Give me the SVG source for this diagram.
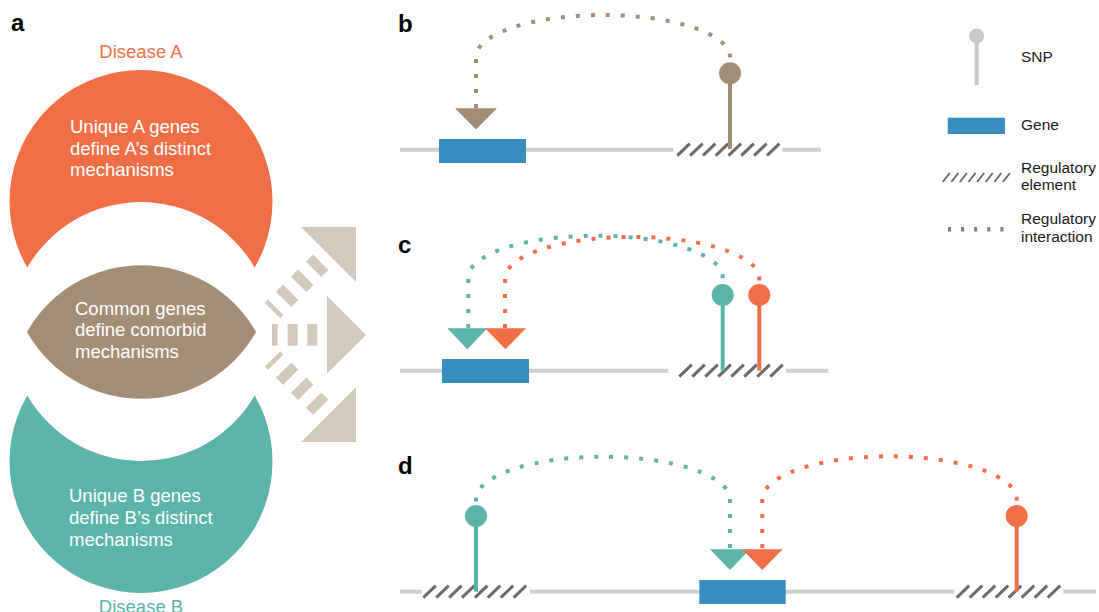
<svg xmlns="http://www.w3.org/2000/svg" width="1099" height="612" viewBox="0 0 1099 612">
<style>
text{font-family:"Liberation Sans",Arial,Helvetica,sans-serif}
.lbl{font-size:24px;font-weight:bold;fill:#000}
.body{font-size:18.5px;fill:#fff}
.leg{font-size:15.5px;fill:#1a1a1a}
.dna{stroke:#cfcfcf;stroke-width:4;fill:none}
.hatch{stroke:#6b6b6b;stroke-width:3;fill:none}
.gene{fill:#378dc0}
.beige{fill:#d2c8bb}
.dot{fill:none;stroke-width:4;stroke-dasharray:4 11}
.tb{stroke:#a38e75}
.tt{stroke:#5bb3aa}
.to{stroke:#f06f47}
</style>

<!-- Panel a -->
<text class="lbl" x="11" y="31">a</text>
<g id="disease-a">
<text x="141" y="58" text-anchor="middle" style="font-size:18.5px;fill:#f06f47">Disease A</text>
<path d="M27.3 267.5 A131.5 131.5 0 1 1 254.7 267.5 A131.5 131.5 0 0 0 27.3 267.5 Z" fill="#f06f47"/>
<text class="body" x="70" y="133">Unique A genes</text>
<text class="body" x="70" y="154.5">define A’s distinct</text>
<text class="body" x="70" y="176">mechanisms</text>
</g>
<g id="common">
<path d="M27 332 A131.5 131.5 0 0 1 256 332 A131.5 131.5 0 0 1 27 332 Z" fill="#a38e75"/>
<text class="body" x="75" y="314.5">Common genes</text>
<text class="body" x="75" y="336">define comorbid</text>
<text class="body" x="75" y="357.5">mechanisms</text>
</g>
<g id="disease-b">
<path d="M27.3 395.5 A131.5 131.5 0 0 0 254.7 395.5 A131.5 131.5 0 1 1 27.3 395.5 Z" fill="#5bb3aa"/>
<text class="body" x="69" y="502">Unique B genes</text>
<text class="body" x="69" y="524">define B’s distinct</text>
<text class="body" x="69" y="546">mechanisms</text>
<text x="141" y="613" text-anchor="middle" style="font-size:18.5px;fill:#5bb3aa">Disease B</text>
</g>
<g id="arrows" class="beige">
<polygon points="301,227 356,227 356,282"/>
<polygon points="327,296 366,335 327,373.5"/>
<polygon points="356,387 356,442 301,442"/>
<rect x="307.3" y="324" width="10" height="21.7"/>
<rect x="287.7" y="324" width="10" height="21.7"/>
<rect x="272" y="324" width="5.7" height="21.7"/>
<g transform="translate(328.5 254.5) rotate(135)">
<rect x="11" y="-10.85" width="10" height="21.7"/>
<rect x="32.2" y="-10.85" width="10" height="21.7"/>
<rect x="53.4" y="-10.85" width="10" height="21.7"/>
<rect x="74.6" y="-10.85" width="4.6" height="21.7"/>
</g>
<g transform="translate(328.5 415) rotate(225)">
<rect x="11" y="-10.85" width="10" height="21.7"/>
<rect x="32.2" y="-10.85" width="10" height="21.7"/>
<rect x="53.4" y="-10.85" width="10" height="21.7"/>
<rect x="74.6" y="-10.85" width="4.6" height="21.7"/>
</g>
</g>

<!-- Panel b -->
<text class="lbl" x="398" y="31.5">b</text>
<g id="b-dna">
<path class="dna" d="M400 149.7 H673.3 M782.3 149.7 H821"/>
</g>
<g id="b-reg">
<path class="hatch" d="M677.3 155.7 l12.5 -12 M690.1 155.7 l12.5 -12 M702.9 155.7 l12.5 -12 M715.7 155.7 l12.5 -12 M728.5 155.7 l12.5 -12 M741.3 155.7 l12.5 -12 M754.1 155.7 l12.5 -12 M766.9 155.7 l12.5 -12"/>
</g>
<g id="b-gene"><rect class="gene" x="439" y="139" width="87" height="24"/></g>
<g id="b-snp">
<line x1="730" y1="73" x2="730" y2="149" stroke="#a38e75" stroke-width="4"/>
<circle cx="730" cy="73.3" r="11" fill="#a38e75"/>
</g>

<!-- Panel c -->
<text class="lbl" x="398" y="253">c</text>
<g id="c-dna"><path class="dna" d="M400 370.7 H668.3 M786 370.7 H828.3"/></g>
<g id="c-reg">
<path class="hatch" d="M679.3 376.7 l12.5 -12 M692.3 376.7 l12.5 -12 M705.3 376.7 l12.5 -12 M718.3 376.7 l12.5 -12 M731.3 376.7 l12.5 -12 M744.3 376.7 l12.5 -12 M757.3 376.7 l12.5 -12 M770.3 376.7 l12.5 -12"/>
</g>
<g id="c-gene"><rect class="gene" x="442" y="359" width="87" height="24"/></g>
<g id="c-snp-teal">
<line x1="722.7" y1="295" x2="722.7" y2="370.7" stroke="#5bb3aa" stroke-width="4"/>
<circle cx="722.7" cy="295" r="11" fill="#5bb3aa"/>
</g>
<g id="c-snp-orange">
<line x1="759.3" y1="295" x2="759.3" y2="370.7" stroke="#f06f47" stroke-width="4"/>
<circle cx="759.3" cy="295" r="11" fill="#f06f47"/>
</g>

<!-- Panel d -->
<text class="lbl" x="398" y="474">d</text>
<g id="d-dna"><path class="dna" d="M400 591.7 H421.7 M530 591.7 H954.3 M1063.3 591.7 H1096"/></g>
<g id="d-reg-left">
<path class="hatch" d="M423.3 597.7 l12.5 -12 M436.2 597.7 l12.5 -12 M449.1 597.7 l12.5 -12 M462 597.7 l12.5 -12 M474.9 597.7 l12.5 -12 M487.8 597.7 l12.5 -12 M500.7 597.7 l12.5 -12 M513.6 597.7 l12.5 -12"/>
</g>
<g id="d-reg-right">
<path class="hatch" d="M956.7 597.7 l12.5 -12 M969.7 597.7 l12.5 -12 M982.7 597.7 l12.5 -12 M995.7 597.7 l12.5 -12 M1008.7 597.7 l12.5 -12 M1021.7 597.7 l12.5 -12 M1034.7 597.7 l12.5 -12 M1047.7 597.7 l12.5 -12"/>
</g>
<g id="d-gene"><rect class="gene" x="699.3" y="580" width="86.4" height="24"/></g>
<g id="d-snp-teal">
<line x1="476" y1="516" x2="476" y2="591.7" stroke="#5bb3aa" stroke-width="4"/>
<circle cx="476" cy="516" r="11" fill="#5bb3aa"/>
</g>
<g id="d-snp-orange">
<line x1="1016.7" y1="516" x2="1016.7" y2="591.7" stroke="#f06f47" stroke-width="4"/>
<circle cx="1016.7" cy="516" r="11" fill="#f06f47"/>
</g>

<!-- Connectors -->
<g id="connectors">
<path class="dot tb" d="M476 108 L476 57 A127 42 0 0 1 730 57 L730 61"/>
<polygon points="455,108.3 497,108.3 476,129.5" fill="#a38e75"/>
<path class="dot tt" d="M468.3 328 L468.3 277.3 A127.2 41.6 0 0 1 722.7 277.3 L722.7 283"/>
<path class="dot to" d="M505 328 L505 277.3 A127.2 41.6 0 0 1 759.3 277.3 L759.3 283"/>
<polygon points="447.3,328.3 487.3,328.3 467.3,349.3" fill="#5bb3aa"/>
<polygon points="485,328.3 526,328.3 505.5,349.3" fill="#f06f47"/>
<path class="dot tt" d="M730 548 L730 499.3 A127 42.6 0 0 0 476 499.3 L476 504"/>
<path class="dot to" d="M762.3 548 L762.3 499.3 A127.2 43 0 0 1 1016.7 499.3 L1016.7 504"/>
<polygon points="710,549.3 750,549.3 730,570" fill="#5bb3aa"/>
<polygon points="742,549.3 782.7,549.3 762.3,570" fill="#f06f47"/>
</g>

<!-- Legend -->
<g id="legend-snp">
<line x1="976.7" y1="36" x2="976.7" y2="85" stroke="#c8c8c8" stroke-width="4"/>
<circle cx="976.7" cy="36" r="7.5" fill="#c8c8c8"/>
<text class="leg" x="1021" y="61.5">SNP</text>
</g>
<g id="legend-gene">
<rect class="gene" x="947.7" y="117.7" width="57.3" height="16.3"/>
<text class="leg" x="1021" y="130">Gene</text>
</g>
<g id="legend-reg">
<path d="M942.7 182 l7 -9 M951.3 182 l7 -9 M959.9 182 l7 -9 M968.5 182 l7 -9 M977.1 182 l7 -9 M985.7 182 l7 -9 M994.3 182 l7 -9 M1002.9 182 l7 -9" stroke="#6b6b6b" stroke-width="2" fill="none"/>
<text class="leg" x="1021" y="172.5">Regulatory</text>
<text class="leg" x="1021" y="190">element</text>
</g>
<g id="legend-int" fill="#7c7c7c">
<rect x="948" y="227" width="3" height="4.5"/>
<rect x="961.1" y="227" width="3" height="4.5"/>
<rect x="974.2" y="227" width="3" height="4.5"/>
<rect x="987.3" y="227" width="3" height="4.5"/>
<rect x="1000.4" y="227" width="3" height="4.5"/>
<text class="leg" x="1021" y="224">Regulatory</text>
<text class="leg" x="1021" y="241.5">interaction</text>
</g>
</svg>
